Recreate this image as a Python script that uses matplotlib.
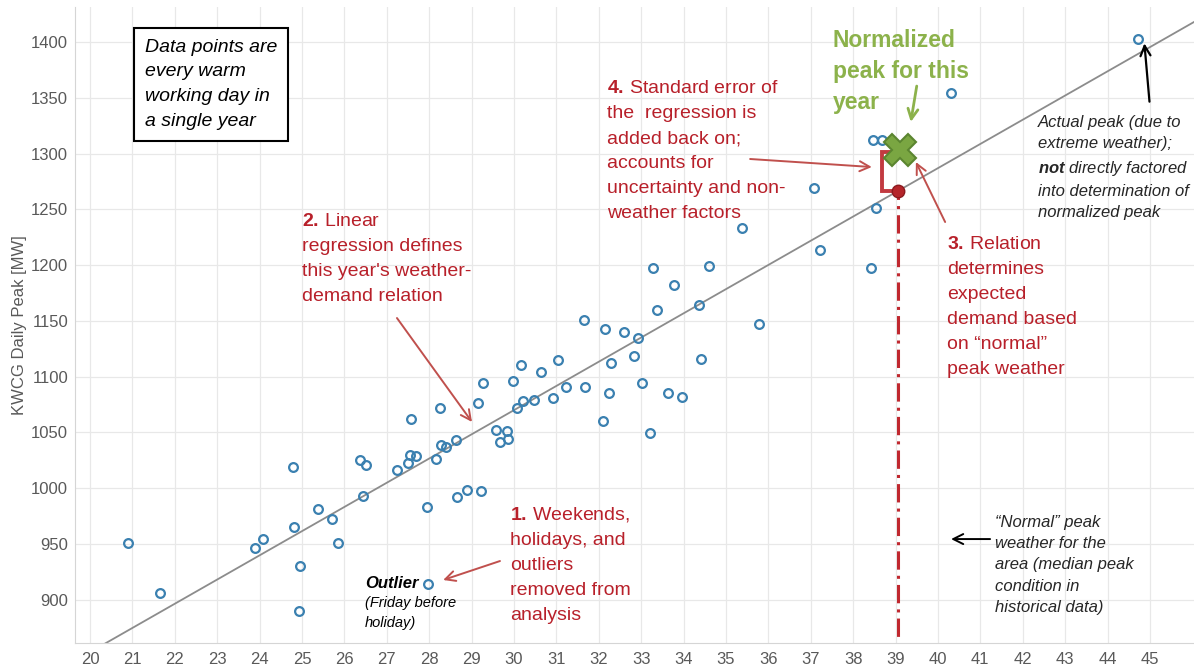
import numpy as np
import matplotlib
matplotlib.use('Agg')
from matplotlib import pyplot as plt

plt.rcParams['font.family'] = ['Liberation Sans', 'DejaVu Sans']
plt.rcParams['mathtext.fontset'] = 'custom'
plt.rcParams['mathtext.rm'] = 'Liberation Sans'
plt.rcParams['mathtext.it'] = 'Liberation Sans:italic'
plt.rcParams['mathtext.bf'] = 'Liberation Sans:bold'
plt.rcParams['mathtext.bfit'] = 'Liberation Sans:italic:bold'

# daily peak temperature vs KWCG daily peak (warm working days)
temps = [20.90, 21.65, 23.88, 24.09, 24.79, 24.80, 24.95, 24.93, 25.37, 25.71,
         25.86, 26.37, 26.52, 26.45, 27.25, 27.55, 27.51, 27.69, 27.94, 27.56,
         28.25, 29.14, 29.28, 29.97, 30.17, 30.63, 31.05, 31.22, 30.93, 30.48,
         30.22, 30.06, 29.58, 29.84, 29.67, 29.87, 28.63, 28.29, 28.40, 28.15,
         28.66, 28.90, 29.22, 33.29, 34.59, 33.77, 34.37, 33.38, 31.66, 32.15,
         32.60, 32.92, 32.84, 32.30, 34.41, 31.67, 32.25, 33.03, 33.64, 33.97,
         32.09, 33.22, 35.78, 38.46, 38.67, 37.08, 38.54, 35.37, 37.22, 38.42,
         40.32, 44.72]
peaks = [951, 906, 946, 954.5, 1019, 965, 930, 890, 981, 972,
         950.5, 1025.5, 1020.5, 992.5, 1016, 1030, 1022.5, 1028.5, 983, 1062,
         1072, 1076, 1094, 1096, 1110, 1104, 1114.5, 1091, 1081, 1079,
         1078, 1072, 1052, 1051, 1041, 1044, 1043, 1039, 1037, 1026,
         992, 998.5, 997.5, 1197.5, 1199.5, 1182.5, 1164, 1159.5, 1150.5, 1142.5,
         1140, 1134.5, 1118.5, 1112, 1116, 1091, 1085.5, 1094.5, 1085.5, 1081.5,
         1060.5, 1049.5, 1147, 1312, 1312, 1269, 1251, 1233.5, 1213.5, 1197,
         1354, 1403]
outlier_temp = 27.98
outlier_peak = 914

# regression and normalization
intercept = 418.9
slope = 21.7
normal_temp = 39.05
std_err = 37
expected_peak = intercept + slope * normal_temp
normalized_peak = expected_peak + std_err

xticks = list(range(20, 46))
yticks = list(range(900, 1401, 50))

red = '#b8202a'
red_arrow = '#c0504d'
blue = '#3a80b0'
green = '#8cb24b'

fig = plt.figure(figsize=(11.94, 6.69), dpi=100)
ax = fig.add_axes([75 / 1194, 26 / 669, 1 - 75 / 1194, 636 / 669])
ax.set_xlim(19.646, 46.04)
ax.set_ylim(861.1, 1431.4)
ax.set_xticks(xticks)
ax.set_yticks(yticks)
ax.tick_params(length=0, labelsize=12, labelcolor='#595959')
ax.tick_params(axis='x', pad=6.5)
ax.tick_params(axis='y', pad=5)
ax.grid(True, color='#e8e8e8', lw=0.9)
ax.set_axisbelow(True)
for s in ['top', 'right']:
    ax.spines[s].set_visible(False)
for s in ['left', 'bottom']:
    ax.spines[s].set_color('#d5d5d5')
ax.set_ylabel('KWCG Daily Peak [MW]', fontsize=12, color='#595959', labelpad=3)

# regression line
xs = np.array(ax.get_xlim())
ax.plot(xs, intercept + slope * xs, color='#8c8c8c', lw=1.3, zorder=2)

# points
ax.plot(temps + [outlier_temp], peaks + [outlier_peak], 'o', mfc='none', mec=blue,
        ms=6.3, mew=1.6, zorder=3)

# normal weather line, expected peak, bracket and normalized peak
ax.plot([normal_temp, normal_temp], [800, expected_peak], color='#c0282f', lw=2.2,
        dashes=(6, 2, 1, 2), zorder=4)
bx = normal_temp - 0.38
ax.plot([normal_temp, bx, bx, bx + 0.27],
        [expected_peak, expected_peak, normalized_peak - 2, normalized_peak - 2],
        color='#c23a40', lw=2.8, solid_joinstyle='miter', zorder=4)
ax.plot([normal_temp], [expected_peak], 'o', ms=9, mfc='#b5252a', mec='#8b1a1e',
        mew=1, zorder=5)
ax.plot([normal_temp + 0.05], [normalized_peak], 'X', ms=23, mfc='#7aa642',
        mec='#5b8530', mew=1.5, zorder=6)

# text box
ax.text(21.30, 1403, 'Data points are\nevery warm\nworking day in\na single year',
        fontsize=14, style='italic', va='top', ha='left', linespacing=1.6,
        bbox=dict(boxstyle='square,pad=0.55', fc='white', ec='black', lw=1.5))

# numbered notes
ax.text(25.0, 1247, r'$\mathbf{2.}\,$Linear' + "\nregression defines\nthis year's weather-\ndemand relation",
        fontsize=14, color=red, va='top', ha='left', linespacing=1.62)
ax.text(32.19, 1366, r'$\mathbf{4.}\,$Standard error of' + '\nthe  regression is\nadded back on;\naccounts for\nuncertainty and non-\nweather factors',
        fontsize=14, color=red, va='top', ha='left', linespacing=1.62)
ax.text(40.21, 1226, r'$\mathbf{3.}\,$Relation' + '\ndetermines\nexpected\ndemand based\non \u201cnormal\u201d\npeak weather',
        fontsize=14, color=red, va='top', ha='left', linespacing=1.62)
ax.text(29.91, 985, r'$\mathbf{1.}\,$Weekends,' + '\nholidays, and\noutliers\nremoved from\nanalysis',
        fontsize=14, color=red, va='top', ha='left', linespacing=1.62)

ax.text(37.52, 1412, 'Normalized\npeak for this\nyear', fontsize=16.5, weight='bold',
        color=green, va='top', ha='left', linespacing=1.45)

ax.text(26.49, 921, 'Outlier', fontsize=12, weight='bold', style='italic',
        va='top', ha='left')
ax.text(26.49, 903, '(Friday before\nholiday)', fontsize=10.5, style='italic',
        va='top', ha='left', linespacing=1.5)

ax.text(42.36, 1334.5, 'Actual peak (due to\nextreme weather);\n' + r'$\mathbfit{not}$' + ' directly factored\ninto determination of\nnormalized peak',
        fontsize=12, style='italic', color='#262626', va='top', ha='left', linespacing=1.52)
ax.text(41.34, 976, '\u201cNormal\u201d peak\nweather for the\narea (median peak\ncondition in\nhistorical data)',
        fontsize=12, style='italic', color='#262626', va='top', ha='left', linespacing=1.52)

# arrows
def arrow(x0, y0, x1, y1, color, lw=1.4):
    ax.annotate('', xy=(x1, y1), xytext=(x0, y0),
                arrowprops=dict(arrowstyle='->', color=color, lw=lw,
                                mutation_scale=18, shrinkA=0, shrinkB=0), zorder=7)

arrow(27.24, 1152.5, 29.01, 1059.3, red_arrow)
arrow(29.67, 934.6, 28.33, 917.6, red_arrow)
arrow(35.57, 1295.1, 38.44, 1287.9, red_arrow)
arrow(40.17, 1238.6, 39.48, 1292.4, red_arrow)
arrow(39.50, 1360.5, 39.36, 1328.3, green, lw=2)
arrow(41.23, 954.3, 40.31, 954.3, 'black')
arrow(44.99, 1346.5, 44.87, 1398.8, 'black', lw=1.6)

fig.savefig('out.png', dpi=100)
